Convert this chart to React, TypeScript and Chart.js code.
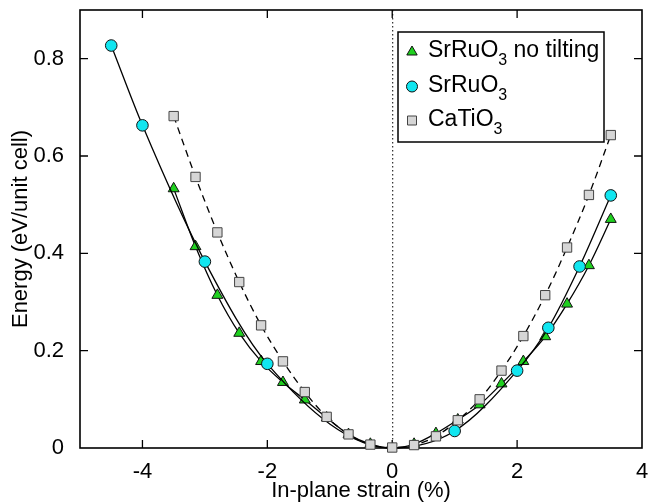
import React, { useEffect, useRef } from 'react';
import { Chart, registerables } from 'chart.js';

Chart.register(...registerables);

const FONT = '"Liberation Sans", Arial, Helvetica, sans-serif';

// Shared strain grid (%) for "no tilting" and CaTiO3
const gridStrain = [-3.5, -3.15, -2.8, -2.45, -2.1, -1.75, -1.4, -1.05, -0.7, -0.35, 0, 0.35, 0.7, 1.05, 1.4, 1.75, 2.1, 2.45, 2.8, 3.15, 3.5];
const noTiltEnergy = [0.533, 0.414, 0.314, 0.236, 0.178, 0.135, 0.099, 0.062, 0.028, 0.008, 0, 0.008, 0.03, 0.058, 0.089, 0.132, 0.178, 0.229, 0.296, 0.375, 0.47];
const caTiO3Energy = [0.682, 0.557, 0.443, 0.341, 0.252, 0.178, 0.115, 0.064, 0.028, 0.007, 0.001, 0.006, 0.024, 0.057, 0.1, 0.159, 0.23, 0.314, 0.412, 0.52, 0.643];
// SrRuO3 (with tilting)
const srRuO3Strain = [-4.5, -4, -3, -2, 0, 1, 2, 2.5, 3, 3.5];
const srRuO3Energy = [0.827, 0.663, 0.383, 0.173, 0, 0.035, 0.159, 0.247, 0.373, 0.519];

const xLabelTicks = [-4, -2, 0, 2, 4];
const yLabelTicks = [0, 0.2, 0.4, 0.6, 0.8];

const xTitle = 'In-plane strain (%)';
const yTitle = 'Energy (eV/unit cell)';

const legendItems = [
  { base: 'SrRuO', sub: '3', rest: ' no tilting', marker: 'triangle' },
  { base: 'SrRuO', sub: '3', rest: '', marker: 'circle' },
  { base: 'CaTiO', sub: '3', rest: '', marker: 'square' },
];

const GREEN = '#1fd01f';
const CYAN = '#11e6f0';
const GRAY = '#d6d6d6';

function toPts(xs: number[], ys: number[]) {
  return xs.map((x, i) => ({ x, y: ys[i] }));
}

// markers at the common zero point are covered by the CaTiO3 square in the reference
const hideAtZero = (r: number) => (c: any) => (c.raw && c.raw.x === 0 ? 0 : r);

function drawMarker(ctx: CanvasRenderingContext2D, kind: string, x: number, y: number) {
  ctx.save();
  ctx.lineWidth = 1;
  ctx.beginPath();
  if (kind === 'triangle') {
    const r = 6;
    ctx.fillStyle = GREEN;
    ctx.strokeStyle = '#111';
    for (let i = 0; i < 3; i++) {
      const a = (i * 2 * Math.PI) / 3;
      const px = x + Math.sin(a) * r;
      const py = y - Math.cos(a) * r;
      if (i === 0) ctx.moveTo(px, py);
      else ctx.lineTo(px, py);
    }
    ctx.closePath();
  } else if (kind === 'circle') {
    ctx.fillStyle = CYAN;
    ctx.strokeStyle = '#111';
    ctx.arc(x, y, 5.5, 0, Math.PI * 2);
  } else {
    ctx.fillStyle = GRAY;
    ctx.strokeStyle = '#444';
    ctx.rect(x - 4.5, y - 4.5, 9, 9);
  }
  ctx.fill();
  ctx.stroke();
  ctx.restore();
}

const framePlugin = {
  id: 'frameTicks',
  beforeDatasetsDraw(chart: any) {
    const { ctx, chartArea: a, scales } = chart;
    const xs = scales.x;
    const ys = scales.y;
    ctx.save();
    // dotted vertical line at zero strain
    const x0 = xs.getPixelForValue(0);
    ctx.strokeStyle = '#000';
    ctx.lineWidth = 1;
    ctx.setLineDash([1.5, 2.5]);
    ctx.beginPath();
    ctx.moveTo(x0 + 0.5, a.top);
    ctx.lineTo(x0 + 0.5, a.bottom);
    ctx.stroke();
    ctx.setLineDash([]);
    // inward ticks on all four sides
    const TL = 8;
    ctx.lineWidth = 1.3;
    ctx.beginPath();
    xs.ticks.forEach((t: any) => {
      const px = xs.getPixelForValue(t.value);
      if (px <= a.left + 1 || px >= a.right - 1) return;
      ctx.moveTo(px, a.bottom);
      ctx.lineTo(px, a.bottom - TL);
      ctx.moveTo(px, a.top);
      ctx.lineTo(px, a.top + TL);
    });
    ys.ticks.forEach((t: any) => {
      const py = ys.getPixelForValue(t.value);
      if (py <= a.top + 1 || py >= a.bottom - 1) return;
      ctx.moveTo(a.left, py);
      ctx.lineTo(a.left + TL, py);
      ctx.moveTo(a.right, py);
      ctx.lineTo(a.right - TL, py);
    });
    ctx.stroke();
    // frame
    ctx.lineWidth = 1.6;
    ctx.strokeRect(a.left, a.top, a.right - a.left, a.bottom - a.top);
    ctx.restore();
  },
};

const legendPlugin = {
  id: 'richLegend',
  afterDraw(chart: any) {
    const { ctx } = chart;
    const bx = 398, by = 32, bw = 206, bh = 110;
    ctx.save();
    ctx.fillStyle = '#fff';
    ctx.fillRect(bx, by, bw, bh);
    ctx.strokeStyle = '#000';
    ctx.lineWidth = 1.5;
    ctx.strokeRect(bx, by, bw, bh);
    const rows = [57, 91.5, 125.5];
    legendItems.forEach((it, i) => {
      const base = rows[i];
      drawMarker(ctx, it.marker, 412, base - 5);
      ctx.fillStyle = '#000';
      ctx.textBaseline = 'alphabetic';
      ctx.textAlign = 'left';
      ctx.font = `23px ${FONT}`;
      let x = 428;
      ctx.fillText(it.base, x, base);
      x += ctx.measureText(it.base).width;
      ctx.font = `16px ${FONT}`;
      ctx.fillText(it.sub, x, base + 8);
      x += ctx.measureText(it.sub).width;
      if (it.rest) {
        ctx.font = `23px ${FONT}`;
        ctx.fillText(it.rest, x, base);
      }
    });
    ctx.restore();
  },
};

export default function App() {
  const ref = useRef<HTMLCanvasElement>(null);
  useEffect(() => {
    document.body.style.margin = '0';
    const canvas = ref.current;
    if (!canvas) return;
    const chart = new Chart(canvas, {
      type: 'line',
      data: {
        datasets: [
          {
            label: 'SrRuO3 no tilting',
            data: toPts(gridStrain, noTiltEnergy),
            borderColor: '#000',
            borderWidth: 1.3,
            pointStyle: 'triangle',
            pointRadius: hideAtZero(6.3),
            pointBackgroundColor: GREEN,
            pointBorderColor: '#111',
            pointBorderWidth: 1,
            cubicInterpolationMode: 'monotone',
            order: 2,
            clip: false,
          },
          {
            label: 'SrRuO3',
            data: toPts(srRuO3Strain, srRuO3Energy),
            borderColor: '#000',
            borderWidth: 1.3,
            pointStyle: 'circle',
            pointRadius: hideAtZero(5.8),
            pointBackgroundColor: CYAN,
            pointBorderColor: '#111',
            pointBorderWidth: 1,
            cubicInterpolationMode: 'monotone',
            order: 1,
            clip: false,
          },
          {
            label: 'CaTiO3',
            data: toPts(gridStrain, caTiO3Energy),
            borderColor: '#000',
            borderWidth: 1.3,
            borderDash: [7, 5],
            pointStyle: 'rect',
            pointRadius: 6.6,
            pointBackgroundColor: GRAY,
            pointBorderColor: '#444',
            pointBorderWidth: 1,
            cubicInterpolationMode: 'monotone',
            order: 0,
            clip: false,
          },
        ],
      } as any,
      options: {
        responsive: false,
        animation: false,
        events: [],
        layout: { padding: { left: 0, right: 8, top: 10, bottom: 0 } },
        plugins: { legend: { display: false }, tooltip: { enabled: false } },
        scales: {
          x: {
            type: 'linear',
            min: -5,
            max: 4,
            grid: { display: false },
            border: { display: false },
            ticks: {
              stepSize: 1,
              padding: 3,
              color: '#000',
              font: { family: FONT, size: 22 },
              maxRotation: 0,
              autoSkip: false,
              callback: (v: any) => (xLabelTicks.includes(Math.round(Number(v) * 100) / 100) ? String(Math.round(Number(v))) : null),
            },
            title: {
              display: true,
              text: xTitle,
              color: '#000',
              font: { family: FONT, size: 22, lineHeight: 1 },
              padding: { top: 0, bottom: 0 },
            },
            afterFit: (s: any) => {
              s.height = 54;
              s.paddingLeft = 0;
              s.paddingRight = 0;
            },
          },
          y: {
            type: 'linear',
            min: 0,
            max: 0.9,
            grid: { display: false },
            border: { display: false },
            ticks: {
              stepSize: 0.1,
              padding: 8,
              color: '#000',
              font: { family: FONT, size: 22 },
              autoSkip: false,
              callback: (v: any) => {
                const r = Math.round(Number(v) * 10) / 10;
                if (!yLabelTicks.some((t) => Math.abs(t - r) < 1e-6)) return null;
                return r === 0 ? '0' : r.toFixed(1);
              },
            },
            title: {
              display: true,
              text: yTitle,
              color: '#000',
              font: { family: FONT, size: 22, lineHeight: 1 },
              padding: { top: 10, bottom: 0 },
            },
            afterFit: (s: any) => {
              s.width = 80;
              s.paddingTop = 0;
              s.paddingBottom = 0;
            },
          },
        },
      } as any,
      plugins: [framePlugin, legendPlugin],
    });
    return () => chart.destroy();
  }, []);
  return <canvas ref={ref} width={650} height={502} style={{ display: 'block' }} />;
}
